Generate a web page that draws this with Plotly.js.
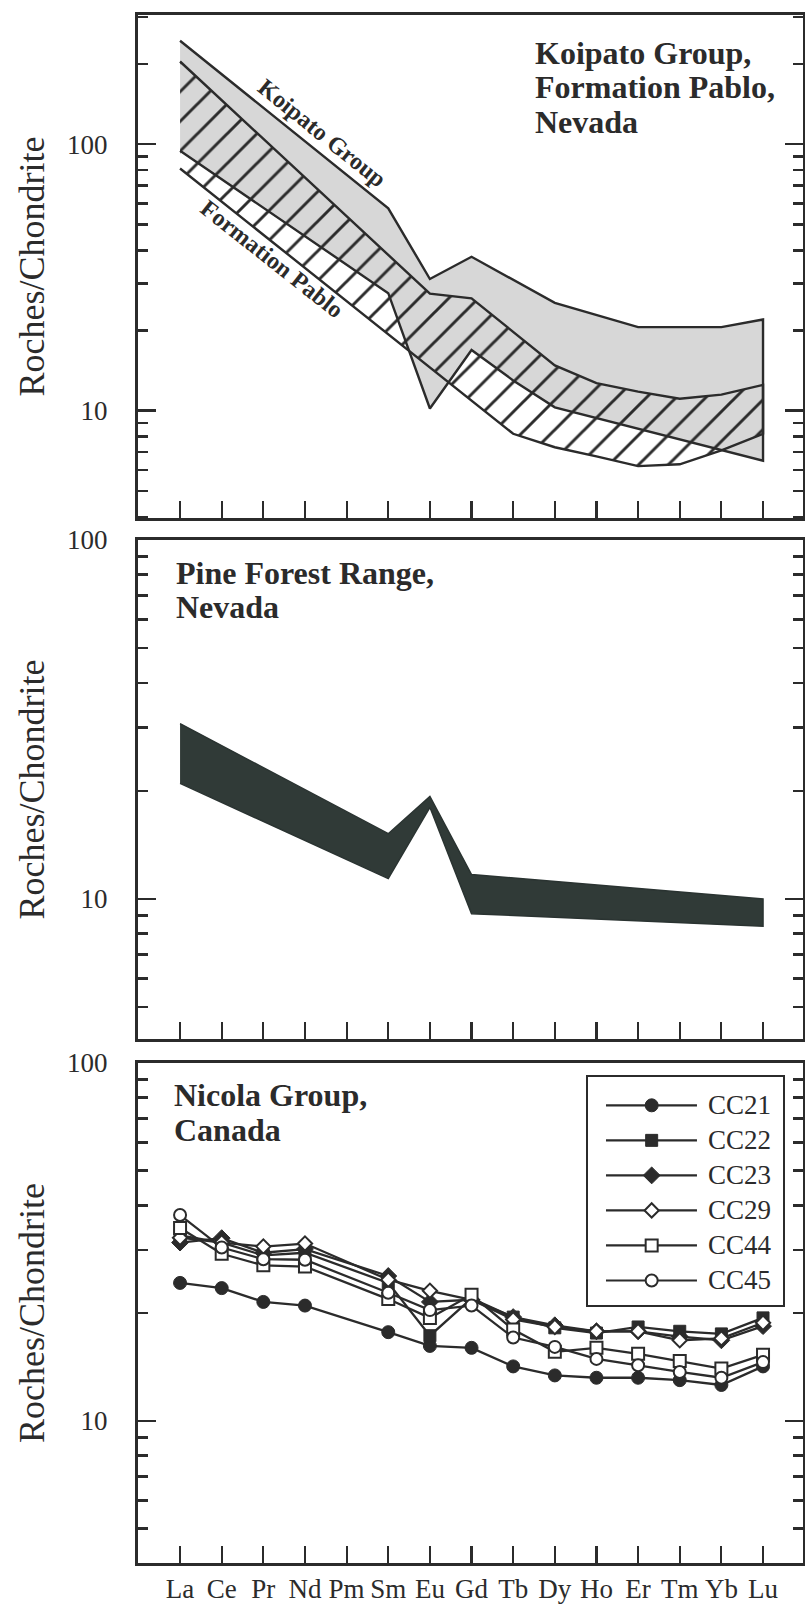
<!DOCTYPE html>
<html><head><meta charset="utf-8">
<script src="https://cdn.plot.ly/plotly-3.0.1.min.js"></script>
<style>html,body{margin:0;padding:0;background:#fff}</style>
</head><body><div id="chart" style="width:805px;height:1610px"></div>
<script>
// ---------- DATA ----------
const elements = ['La','Ce','Pr','Nd','Pm','Sm','Eu','Gd','Tb','Dy','Ho','Er','Tm','Yb','Lu'];

// Panel 1: Koipato Group (stippled) and Formation Pablo (hatched) envelopes
const koipatoUpperEl  = ['La','Sm','Eu','Gd','Dy','Er','Yb','Lu'];
const koipatoUpperVal = [244, 57.4, 31.2, 37.8, 25.4, 20.6, 20.6, 22.0];
const koipatoLowerEl  = ['La','Sm','Eu','Gd','Tb','Dy','Er','Lu'];
const koipatoLowerVal = [94.4, 27.6, 10.2, 16.9, 13.0, 10.3, 8.6, 6.5];
const pabloUpperEl    = ['La','Eu','Gd','Tb','Dy','Ho','Er','Tm','Yb','Lu'];
const pabloUpperVal   = [204, 27.5, 26.4, 19.7, 14.8, 12.7, 11.8, 11.1, 11.5, 12.5];
const pabloLowerEl    = ['La','Tb','Dy','Ho','Er','Tm','Yb','Lu'];
const pabloLowerVal   = [81, 8.2, 7.3, 6.75, 6.2, 6.3, 7.1, 8.2];

// Panel 2: Pine Forest Range envelope
const pineEl    = ['La','Sm','Eu','Gd','Lu'];
const pineUpper = [30.8, 15.2, 19.3, 11.7, 10.0];
const pineLower = [21.0, 11.4, 18.0, 9.1, 8.4];

// Panel 3: Nicola Group samples
const nicolaEl = ['La','Ce','Pr','Nd','Sm','Eu','Gd','Tb','Dy','Ho','Er','Tm','Yb','Lu'];
const sampleNames = ['CC21','CC22','CC23','CC29','CC44','CC45'];
const CC21 = [24.3, 23.5, 21.5, 21.0, 17.7, 16.2, 16.0, 14.2, 13.4, 13.2, 13.2, 13.0, 12.6, 14.2];
const CC22 = [33.0, 31.5, 29.0, 29.5, 24.3, 17.3, 22.0, 19.5, 18.2, 17.6, 18.3, 17.8, 17.5, 19.4];
const CC23 = [31.5, 32.4, 29.5, 30.2, 25.4, 21.5, 21.8, 19.5, 18.5, 17.8, 17.8, 17.2, 16.8, 18.4];
const CC29 = [32.5, 31.5, 30.7, 31.3, 24.8, 23.1, 21.8, 19.2, 18.3, 17.8, 17.8, 16.8, 17.0, 18.8];
const CC44 = [34.6, 29.3, 27.2, 27.0, 21.9, 19.4, 22.5, 18.0, 15.6, 16.0, 15.4, 14.7, 14.0, 15.3];
const CC45 = [37.6, 30.5, 28.3, 28.2, 22.8, 20.4, 21.0, 17.1, 16.1, 14.9, 14.3, 13.7, 13.2, 14.6];

const yTicks = [10, 100];
const yTickText = ['10', '100'];
const yMinor = [3, 4, 5, 6, 7, 8, 9, 20, 30, 40, 50, 60, 70, 80, 90, 200, 300];

// ---------- STYLE ----------
const INK = '#2b2b2b';
const SERIF = 'Liberation Serif, Times New Roman, serif';
const W = 805, H = 1610, ML = 138, MR = 2, MT = 15, MB = 47;
const PW = W - ML - MR, PH = H - MT - MB;
const px = x => (x - ML) / PW;
const py = y => (H - MB - y) / PH;

function poly(upEl, upVal, loEl, loVal) {
  return {
    x: upEl.concat(loEl.slice().reverse()),
    y: upVal.concat(loVal.slice().reverse())
  };
}

const traces = [];
const kp = poly(koipatoUpperEl, koipatoUpperVal, koipatoLowerEl, koipatoLowerVal);
traces.push({x: kp.x, y: kp.y, xaxis: 'x', yaxis: 'y', type: 'scatter', mode: 'lines',
  fill: 'toself', fillcolor: '#d7d7d7', line: {color: INK, width: 2.4}, hoverinfo: 'skip'});
const fp = poly(pabloUpperEl, pabloUpperVal, pabloLowerEl, pabloLowerVal);
traces.push({x: fp.x, y: fp.y, xaxis: 'x', yaxis: 'y', type: 'scatter', mode: 'lines',
  fill: 'toself', fillcolor: 'rgba(0,0,0,0)',
  fillpattern: {shape: '/', fgcolor: INK, bgcolor: 'rgba(0,0,0,0)', size: 21, solidity: 0.14},
  line: {color: INK, width: 2.4}, hoverinfo: 'skip'});

const pf = poly(pineEl, pineUpper, pineEl, pineLower);
traces.push({x: pf.x, y: pf.y, xaxis: 'x2', yaxis: 'y2', type: 'scatter', mode: 'lines',
  fill: 'toself', fillcolor: '#303a37', line: {color: '#2a3331', width: 1.5}, hoverinfo: 'skip'});

const series = [CC21, CC22, CC23, CC29, CC44, CC45];
const markers = [
  {symbol: 'circle', size: 13, color: INK, line: {color: INK, width: 1}},
  {symbol: 'square', size: 12, color: INK, line: {color: INK, width: 1}},
  {symbol: 'diamond', size: 13, color: INK, line: {color: INK, width: 1}},
  {symbol: 'diamond', size: 11, color: '#ffffff', line: {color: INK, width: 2}},
  {symbol: 'square', size: 12, color: '#ffffff', line: {color: INK, width: 2}},
  {symbol: 'circle', size: 12, color: '#ffffff', line: {color: INK, width: 2}}
];
series.forEach((s, i) => {
  traces.push({x: nicolaEl, y: s, name: sampleNames[i], xaxis: 'x3', yaxis: 'y3', type: 'scatter',
    mode: 'lines+markers', line: {color: INK, width: 2.3}, marker: markers[i]});
});

// Legend drawn as a small framed panel
const legX = [0.091, 0.326, 0.559];
sampleNames.forEach((n, k) => {
  traces.push({x: legX, y: [k, k, k], xaxis: 'x4', yaxis: 'y4', type: 'scatter',
    mode: 'lines+markers', line: {color: INK, width: 2.2},
    marker: Object.assign({}, markers[k], {opacity: [0, 1, 0]}), hoverinfo: 'skip'});
});

function xAxis(showLabels, anchor) {
  return {type: 'category', categoryorder: 'array', categoryarray: elements,
    range: [-1.01, 14.96], anchor: anchor, showgrid: false, zeroline: false,
    showline: true, linecolor: INK, linewidth: 3, mirror: true,
    ticks: 'inside', ticklen: 17, tickwidth: 2.2, tickcolor: INK,
    showticklabels: showLabels, ticklabelstandoff: 0,
    tickfont: {family: SERIF, size: 27, color: INK}};
}
function yAxis(range, domain, anchor) {
  return {type: 'log', range: range, domain: domain, anchor: anchor,
    tickmode: 'array', tickvals: yTicks, ticktext: yTickText,
    ticks: 'inside', ticklen: 18, tickwidth: 2.6, tickcolor: INK,
    minor: {tickmode: 'array', tickvals: yMinor, ticks: 'inside', ticklen: 10, tickwidth: 2.6, tickcolor: INK, showgrid: false},
    showgrid: false, zeroline: false, showline: true, linecolor: INK, linewidth: 3, mirror: 'ticks',
    ticklabelstandoff: 22, tickfont: {family: SERIF, size: 27, color: INK},
    title: {text: 'Roches/Chondrite', font: {family: SERIF, size: 36, color: INK}, standoff: 12}};
}

const ann = [];
function label(text, x, yc, opts) {
  ann.push(Object.assign({text: text, xref: 'paper', yref: 'paper', x: px(x), y: py(yc),
    xanchor: 'left', yanchor: 'middle', showarrow: false,
    font: {family: SERIF, size: 32, color: INK}}, opts || {}));
}
label('<b>Koipato Group,</b>', 533, 52.6);
label('<b>Formation Pablo,</b>', 533, 86.6);
label('<b>Nevada</b>', 533, 121.6);
label('<b>Pine Forest Range,</b>', 174, 572.6);
label('<b>Nevada</b>', 174, 606.6);
label('<b>Nicola Group,</b>', 172, 1095.4);
label('<b>Canada</b>', 172, 1129.6);
label('<b>Koipato Group</b>', 322, 133, {xanchor: 'center', textangle: 38.8, font: {family: SERIF, size: 24, color: INK}});
label('<b>Formation Pablo</b>', 272, 259, {xanchor: 'center', textangle: 38.3, font: {family: SERIF, size: 24, color: INK}});
sampleNames.forEach((n, k) => {
  ann.push({text: n, xref: 'x4', yref: 'y4', x: 0.605, y: k, xanchor: 'left', yanchor: 'middle',
    showarrow: false, font: {family: SERIF, size: 27, color: INK}});
});

const layout = {
  width: W, height: H, margin: {l: ML, r: MR, t: MT, b: MB},
  paper_bgcolor: '#ffffff', plot_bgcolor: 'rgba(0,0,0,0)', showlegend: false,
  xaxis: xAxis(false, 'y'),
  yaxis: yAxis([0.598, 2.484], [py(518), py(15)], 'x'),
  xaxis2: xAxis(false, 'y2'),
  yaxis2: yAxis([0.61, 2.0], [py(1039), py(540)], 'x2'),
  xaxis3: xAxis(true, 'y3'),
  yaxis3: yAxis([0.603, 2.0], [py(1563), py(1063)], 'x3'),
  xaxis4: {domain: [px(588.3), px(782.7)], anchor: 'y4', range: [0, 1], showgrid: false, zeroline: false,
    showline: true, mirror: true, linecolor: INK, linewidth: 2.2, showticklabels: false, ticks: ''},
  yaxis4: {domain: [py(1305), py(1077.3)], anchor: 'x4', range: [5.7, -0.8], showgrid: false, zeroline: false,
    showline: true, mirror: true, linecolor: INK, linewidth: 2.2, showticklabels: false, ticks: ''},
  annotations: ann
};
Plotly.newPlot('chart', traces, layout, {displayModeBar: false, staticPlot: true});
</script></body></html>
